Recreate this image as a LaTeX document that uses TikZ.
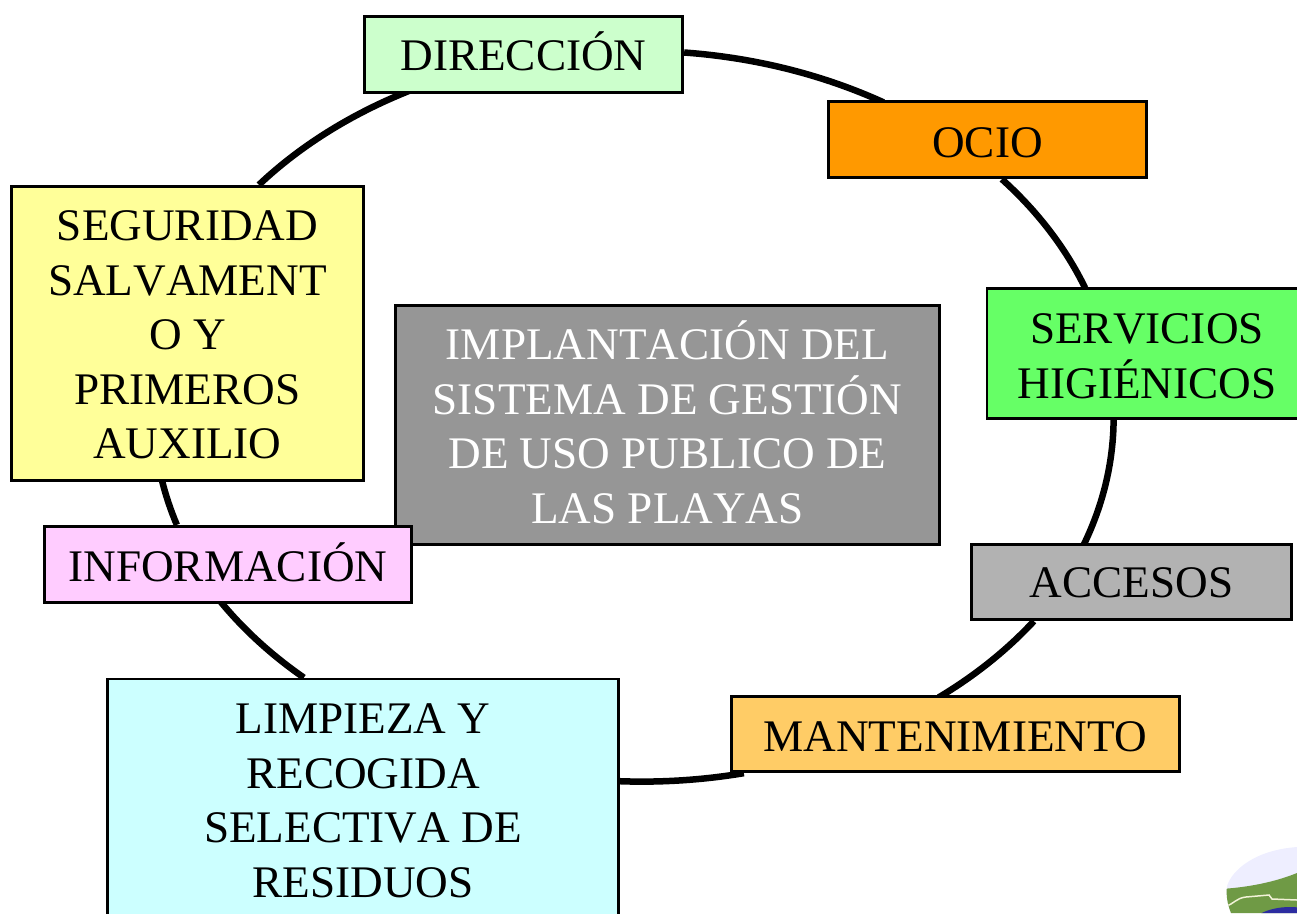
\documentclass[tikz,border=0pt]{standalone}
\usepackage{fontspec}
\setmainfont[Kerning=Off]{Liberation Serif}
\usetikzlibrary{backgrounds}
\definecolor{cdir}{HTML}{CCFFCC}
\definecolor{cocio}{HTML}{FF9900}
\definecolor{cserv}{HTML}{66FF66}
\definecolor{cacc}{HTML}{B2B2B2}
\definecolor{cmant}{HTML}{FFCC66}
\definecolor{climp}{HTML}{CCFFFF}
\definecolor{cinfo}{HTML}{FFCCFF}
\definecolor{cseg}{HTML}{FFFF99}
\definecolor{cgray}{HTML}{969696}
\definecolor{lav}{HTML}{EEEEFF}
\definecolor{lgreen}{HTML}{6F9A45}
\definecolor{lblue}{HTML}{2C2CA0}
\definecolor{lcream}{HTML}{F2F2D8}
\tikzset{
  box/.style={draw=black,line width=2.8pt,align=center,inner sep=0pt,text depth=0pt,
    font=\fontsize{45.2}{54.5}\selectfont,text=black},
  ring/.style={draw=black,line width=6.5pt,x radius=477,y radius=365}
}
\begin{document}
\begin{tikzpicture}[x=1pt,y=-1pt]
\useasboundingbox (0,0) rectangle (1297,913);
\clip (0,0) rectangle (1297,913);
% logo
\begin{scope}
  \clip (1231,913) .. controls (1227,903) and (1226,895) .. (1227,886) .. controls (1232,870) and (1255,850) .. (1297,847) -- (1297,913) -- cycle;
  \fill[lav] (1220,840) rectangle (1297,913);
  \fill[lgreen] (1220,889) .. controls (1240,888) and (1270,884) .. (1297,873) -- (1297,913) -- (1220,913) -- cycle;
  \draw[draw=lcream,line width=1.5pt] (1226,906) .. controls (1234,904) and (1236,898) .. (1246,897) -- (1269,895) -- (1272,899) -- (1297,900);
  \fill[lblue] (1290,930) ellipse [x radius=42,y radius=23];
\end{scope}
\node[box,fill=cgray,text=white,minimum width=544.5,minimum height=239.5,text height=196pt] (impl) at (667.5,425)
  {IMPLANTACIÓN DEL\\SISTEMA DE GESTIÓN\\DE USO PUBLICO DE\\LAS PLAYAS};
\node[box,fill=cdir,minimum width=318.5,minimum height=76.5,text height=32.5pt] (dir) at (523.5,54.5) {DIRECCIÓN};
\node[box,fill=cocio,minimum width=318.5,minimum height=76.5,text height=35pt] (ocio) at (987.5,139.5) {OCIO};
\node[box,fill=cserv,minimum width=320,minimum height=130.5,text height=89pt] (serv) at (1147,353.5) {SERVICIOS\\HIGIÉNICOS};
\node[box,fill=cacc,minimum width=320.5,minimum height=75.5,text height=30.5pt] (acc) at (1131.5,582) {ACCESOS};
\node[box,fill=cmant,minimum width=448.5,minimum height=75.5,text height=34.5pt] (mant) at (955.5,734) {MANTENIMIENTO};
\node[box,fill=climp,minimum width=511.5,minimum height=242,text height=194pt] (limp) at (363,800) {LIMPIEZA Y\\RECOGIDA\\SELECTIVA DE\\RESIDUOS};
\node[box,fill=cinfo,minimum width=367.5,minimum height=76.5,text height=33pt] (info) at (228,564.5) {INFORMACIÓN};
\node[box,fill=cseg,minimum width=352.5,minimum height=294.5,text height=250pt] (seg) at (187.5,333.5) {SEGURIDAD\\SALVAMENT\\O Y\\PRIMEROS\\AUXILIO};
\begin{scope}[on background layer]
  \draw[ring] ([yshift=2pt]dir.east) arc[start angle=-84.6,end angle=-59.2];
  \draw[ring] ([xshift=175pt]ocio.south west) arc[start angle=-40.3,end angle=-20.4];
  \draw[ring] ([xshift=128pt]serv.south west) arc[start angle=0.4,end angle=20.4];
  \draw[ring] ([xshift=64pt]acc.south west) arc[start angle=35.4,end angle=52];
  \draw[ring] ([xshift=14pt]mant.south west) arc[start angle=77.65,end angle=92.75];
  \draw[ring] ([xshift=198pt]limp.north west) arc[start angle=132.2,end angle=147.8];
  \draw[ring] ([xshift=134pt]info.north west) arc[start angle=162,end angle=169.3];
  \draw[ring] ([xshift=249pt]seg.north west) arc[start angle=219,end angle=243.6];
\end{scope}
\end{tikzpicture}
\end{document}
